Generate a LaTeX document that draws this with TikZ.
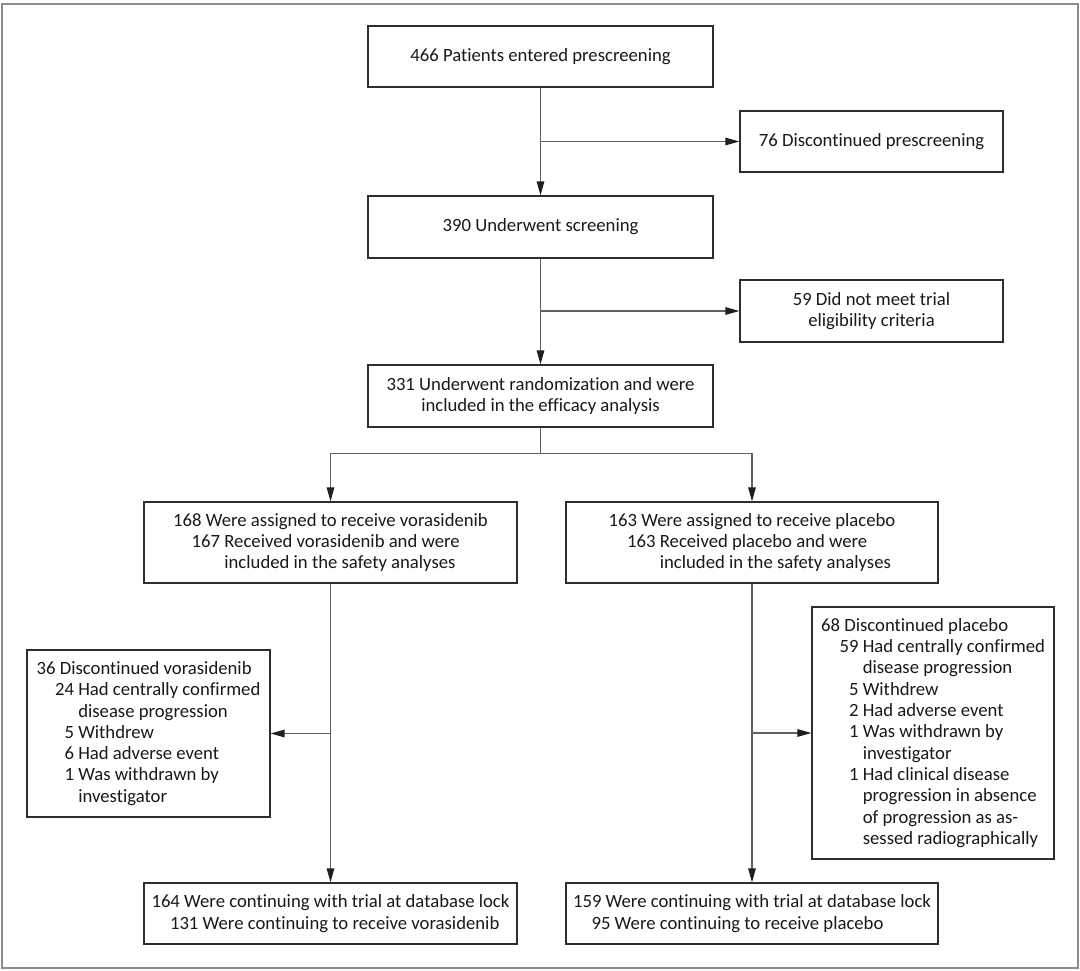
\documentclass[tikz,border=0pt]{standalone}
\usepackage{fontspec}
\setmainfont{Carlito}[Ligatures=NoCommon]
\usetikzlibrary{arrows.meta}
\newcommand\myind{\hspace*{18.5pt}}
\begin{document}
\begin{tikzpicture}[x=1pt,y=-1pt,
  box/.style={draw=black!82, line width=1.2pt, inner sep=0pt, align=left,
    font=\fontsize{18.7}{21.3}\selectfont, text=black!90},
  conn/.style={draw=black!62, line width=1.25pt},
  arr/.style={conn, -{Triangle[length=14pt,width=7.5pt,color=black!88]}},
]
\useasboundingbox (0,0) rectangle (1080,971);
\fill[white] (0,0) rectangle (1080,971);
\draw[draw=black!45, line width=2pt] (2,4) rectangle (1077.5,968);

\node[box, minimum width=345pt, minimum height=61pt, align=center] (b1) at (540.5,56.5) {466 Patients entered prescreening};
\node[box, minimum width=263pt, minimum height=61pt, align=center] (b2) at (871.5,141.5) {76 Discontinued prescreening};
\node[box, minimum width=345pt, minimum height=62pt, align=center] (b3) at (540.5,227) {390 Underwent screening};
\node[box, minimum width=263pt, minimum height=62pt, align=center] (b4) at (871.5,311) {59 Did not meet trial\\eligibility criteria};
\node[box, minimum width=345pt, minimum height=62pt, align=center] (b5) at (540.5,396) {331 Underwent randomization and were\\included in the efficacy analysis};

\node[box, minimum width=373pt, minimum height=81pt] (b6) at (330.5,542.5) {168 Were assigned to receive vorasidenib\\
\myind167 Received vorasidenib and were\\
\myind\phantom{167}\ included in the safety analyses};
\node[box, minimum width=372pt, minimum height=81pt] (b7) at (752,542.5) {163 Were assigned to receive placebo\\
\myind163 Received placebo and were\\
\myind\phantom{163}\ included in the safety analyses};

\node[box, minimum width=243pt, minimum height=167pt] (b8) at (148.5,733.5) {36 Discontinued vorasidenib\\
\myind24 Had centrally confirmed\\
\myind\phantom{24}\ disease progression\\
\myind\phantom{2}5 Withdrew\\
\myind\phantom{2}6 Had adverse event\\
\myind\phantom{2}1 Was withdrawn by\\
\myind\phantom{24}\ investigator};
\node[box, minimum width=242pt, minimum height=252pt] (b9) at (933,733) {68 Discontinued placebo\\
\myind59 Had centrally confirmed\\
\myind\phantom{59}\ disease progression\\
\myind\phantom{5}5 Withdrew\\
\myind\phantom{5}2 Had adverse event\\
\myind\phantom{5}1 Was withdrawn by\\
\myind\phantom{59}\ investigator\\
\myind\phantom{5}1 Had clinical disease\\
\myind\phantom{59}\ progression in absence\\
\myind\phantom{59}\ of progression as as-\\
\myind\phantom{59}\ sessed radiographically};

\node[box, minimum width=373pt, minimum height=61pt] (b10) at (330.5,913.5) {164 Were continuing with trial at database lock\\
\myind131 Were continuing to receive vorasidenib};
\node[box, minimum width=372pt, minimum height=61pt] (b11) at (752,913.5) {159 Were continuing with trial at database lock\\
\myind95 Were continuing to receive placebo};

\draw[arr] (b1.south) -- (b3.north);
\draw[arr] (b1.south |- b2.west) -- (b2.west);
\draw[arr] (b3.south) -- (b5.north);
\draw[arr] (b3.south |- b4.west) -- (b4.west);
\draw[conn] (b5.south) -- ++(0,26) coordinate (split);
\draw[arr] (split) -| (b6.north);
\draw[arr] (split) -| (b7.north);
\draw[arr] (b6.south) -- (b10.north);
\draw[arr] (b6.south |- b8.east) -- (b8.east);
\draw[arr] (b7.south) -- (b11.north);
\draw[arr] (b7.south |- b9.west) -- (b9.west);
\end{tikzpicture}
\end{document}
